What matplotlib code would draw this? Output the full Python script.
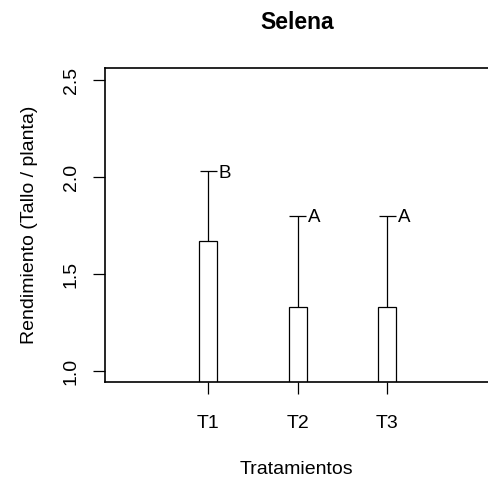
import matplotlib
matplotlib.use("Agg")
import matplotlib.pyplot as plt
import numpy as np

plt.rcParams['font.family'] = ['Liberation Sans', 'DejaVu Sans']

tratamientos = ["T1", "T2", "T3"]
medias = [1.67, 1.33, 1.33]
error_sup = [0.36, 0.47, 0.47]
letras = ["B", "A", "A"]

fig = plt.figure(figsize=(4.88, 4.82), dpi=100)
ax = fig.add_axes([104.7 / 488, 100 / 482, (489 - 104.7) / 488, (382 - 68) / 482])

x = np.arange(1, len(tratamientos) + 1)
ancho = 0.2
cap = 0.095

ax.bar(x, medias, width=ancho, color="white", edgecolor="black", linewidth=0.9, zorder=2)

superior = np.array(medias) + np.array(error_sup)
ax.vlines(x, medias, superior, color="black", linewidth=0.9, zorder=3)
ax.hlines(superior, x - cap, x + cap, color="black", linewidth=0.9, zorder=3)

for xi, yi, letra in zip(x, superior, letras):
    ax.annotate(letra, (xi + cap, yi), xytext=(1.5, -1.5), textcoords="offset points",
                ha="left", va="center", fontsize=13.5)

ax.set_xlim(-0.16, 4.14)
ax.set_ylim(0.943, 2.562)
ax.set_xticks(x)
ax.set_xticklabels(tratamientos)
ax.set_yticks([1.0, 1.5, 2.0, 2.5])
ax.set_yticklabels(["1.0", "1.5", "2.0", "2.5"], rotation=90, va="center")

ax.tick_params(axis="x", length=8.5, width=0.9, pad=15, labelsize=14)
ax.tick_params(axis="y", length=8.5, width=0.9, pad=9.5, labelsize=14)

for s in ax.spines.values():
    s.set_linewidth(1.2)
    s.set_color("black")

ax.set_xlabel("Tratamientos", fontsize=14, labelpad=21)
ax.set_ylabel("Rendimiento (Tallo / planta)", fontsize=14, labelpad=18)
ax.set_title("Selena", fontsize=16.5, fontweight="bold", pad=28)

fig.savefig("out.png", dpi=100)
